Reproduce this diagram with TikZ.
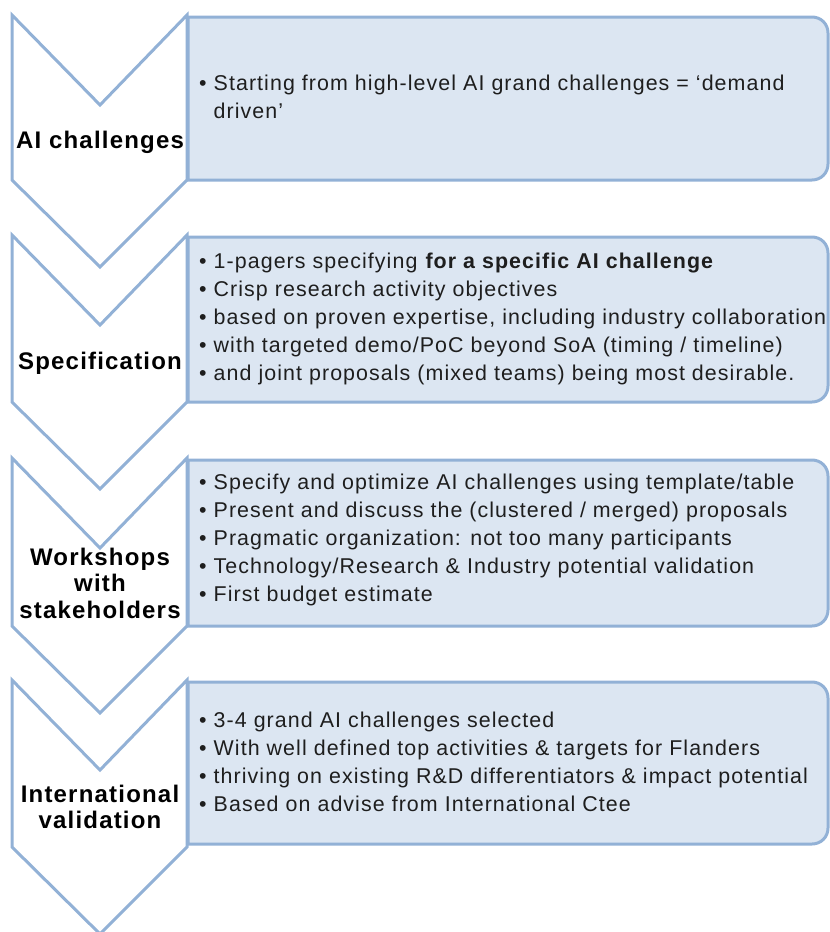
\documentclass[tikz,border=0pt]{standalone}
\usepackage{fontspec}
\usepackage{tikz}
\setmainfont{Liberation Sans}
\newfontfamily\bodyfont[LetterSpace=5]{Liberation Sans}
\newfontfamily\headfont[LetterSpace=5]{Liberation Sans}
\definecolor{stageline}{RGB}{146,177,214}
\definecolor{stagefill}{RGB}{220,230,242}
\definecolor{stagetext}{RGB}{30,30,30}

\begin{document}
\begin{tikzpicture}[x=1pt, y=-1pt,
  chev/.style={draw=stageline, fill=white, line width=3pt},
  bluebox/.style={draw=stageline, fill=stagefill, line width=3pt},
  head/.style={align=center, inner sep=0pt, text=black, font=\headfont\bfseries\fontsize{24}{26.5}\selectfont},
  body/.style={align=left, inner sep=0pt, anchor=west, text=stagetext, font=\bodyfont\fontsize{21.4}{28}\selectfont}]
\useasboundingbox (0,0) rectangle (830,932);

% Chevrons
\draw[chev] (12,15) -- (100,105) -- (187,15) -- (187,180) -- (100,267) -- (12,180) -- cycle;
\draw[chev] (12,235) -- (100,325) -- (187,235) -- (187,402) -- (100,489) -- (12,402) -- cycle;
\draw[chev] (12,458) -- (100,548) -- (187,458) -- (187,626) -- (100,713) -- (12,626) -- cycle;
\draw[chev] (12,680) -- (100,770) -- (187,680) -- (187,847) -- (100,934) -- (12,847) -- cycle;

% Boxes
\draw[bluebox] (188,17) -- (812,17) .. controls (821,17) and (828,24) .. (828,33) -- (828,164) .. controls (828,173) and (821,180) .. (812,180) -- (188,180) -- cycle;
\draw[bluebox] (188,237) -- (812,237) .. controls (821,237) and (828,244) .. (828,253) -- (828,386) .. controls (828,395) and (821,402) .. (812,402) -- (188,402) -- cycle;
\draw[bluebox] (188,460) -- (812,460) .. controls (821,460) and (828,467) .. (828,476) -- (828,610) .. controls (828,619) and (821,626) .. (812,626) -- (188,626) -- cycle;
\draw[bluebox] (188,682) -- (812,682) .. controls (821,682) and (828,689) .. (828,698) -- (828,828) .. controls (828,837) and (821,844) .. (812,844) -- (188,844) -- cycle;

% Stage names
\node[head] (ai) at (100,142) {AI challenges};
\node[head] (spec) at (100,363) {Specification};
\node[head] (work) at (100,583) {Workshops\\with\\stakeholders};
\node[head] (intl) at (100,807) {International\\validation};

% Bullets
\node[body] (aitext) at (199,97) {•\ Starting from high-level AI grand challenges = ‘demand\\\hphantom{•\ }driven’};
\node[body] (spectext) at (199,319) {•\ 1-pagers specifying \textbf{for a specific AI challenge}\\
  •\ Crisp research activity objectives\\
  •\ based on proven expertise, including industry collaboration\\
  •\ with targeted demo/PoC beyond SoA (timing / timeline)\\
  •\ and joint proposals (mixed teams) being most desirable.};
\node[body] (worktext) at (199,540) {•\ Specify and optimize AI challenges using template/table\\
  •\ Present and discuss the (clustered / merged) proposals\\
  •\ Pragmatic organization: not too many participants\\
  •\ Technology/Research \& Industry potential validation\\
  •\ First budget estimate};
\node[body] (intltext) at (199,762) {•\ 3-4 grand AI challenges selected\\
  •\ With well defined top activities \& targets for Flanders\\
  •\ thriving on existing R\&D differentiators \& impact potential\\
  •\ Based on advise from International Ctee};
\end{tikzpicture}
\end{document}
